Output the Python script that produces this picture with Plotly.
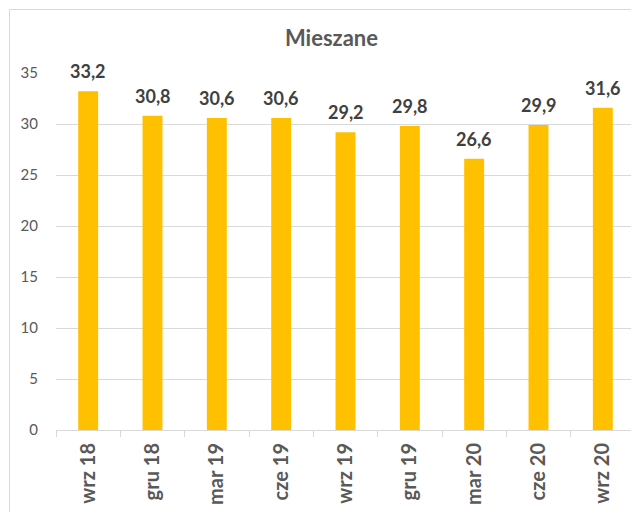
import plotly.graph_objects as go

categories = ["wrz 18", "gru 18", "mar 19", "cze 19", "wrz 19", "gru 19", "mar 20", "cze 20", "wrz 20"]
values = [33.2, 30.8, 30.6, 30.6, 29.2, 29.8, 26.6, 29.9, 31.6]
y_ticks = [0, 5, 10, 15, 20, 25, 30, 35]

FONT = "Lato, 'Open Sans', sans-serif"

# page has an 8px body margin; figure sized to fit viewport
W, H = 631, 504
L, T, R, B = 48, 65, 4, 82
PW, PH = W - L - R, H - T - B

fig = go.Figure(go.Bar(
    x=categories,
    y=values,
    marker=dict(color="#FFC000", line=dict(width=0)),
    width=0.31,
    cliponaxis=False,
    hoverinfo="x+y",
))

annotations = [
    dict(x=c, y=v, xref="x", yref="y", text=f"{v:.1f}".replace(".", ","),
         showarrow=False, yanchor="bottom", xanchor="center", yshift=7,
         font=dict(family=FONT, size=18, color="#404040", weight="bold"))
    for c, v in zip(categories, values)
]

fig.update_layout(
    width=W, height=H,
    margin=dict(l=L, r=R, t=T, b=B),
    paper_bgcolor="white", plot_bgcolor="white",
    showlegend=False,
    title=dict(text="<b>Mieszane</b>", x=323.5 / W, xref="container", xanchor="center",
               y=1 - 30 / H, yref="container", yanchor="middle",
               font=dict(family=FONT, size=22, color="#595959")),
    xaxis=dict(
        type="category",
        tickangle=-90,
        tickfont=dict(family=FONT, size=20, color="#595959", weight="bold"),
        ticklabelstandoff=4,
        showline=True, linecolor="#d9d9d9", linewidth=1,
        ticks="outside", tickson="boundaries", ticklen=6, tickcolor="#d9d9d9",
        showgrid=False,
        automargin=False,
    ),
    yaxis=dict(
        range=[0, 35],
        tickvals=y_ticks,
        tickfont=dict(family=FONT, size=15, color="#595959"),
        ticks="outside", ticklen=14, tickcolor="rgba(0,0,0,0)",
        showgrid=True, gridcolor="#d9d9d9", gridwidth=1,
        zeroline=False, showline=False,
        automargin=False,
    ),
    annotations=annotations,
    shapes=[dict(type="rect", xref="paper", yref="paper",
                 x0=(1.5 - L) / PW, x1=1.05, y0=-0.4, y1=1 + (T - 1.5) / PH,
                 line=dict(color="#d9d9d9", width=1), fillcolor="rgba(0,0,0,0)", layer="below")],
)

fig.write_html("out.html")
